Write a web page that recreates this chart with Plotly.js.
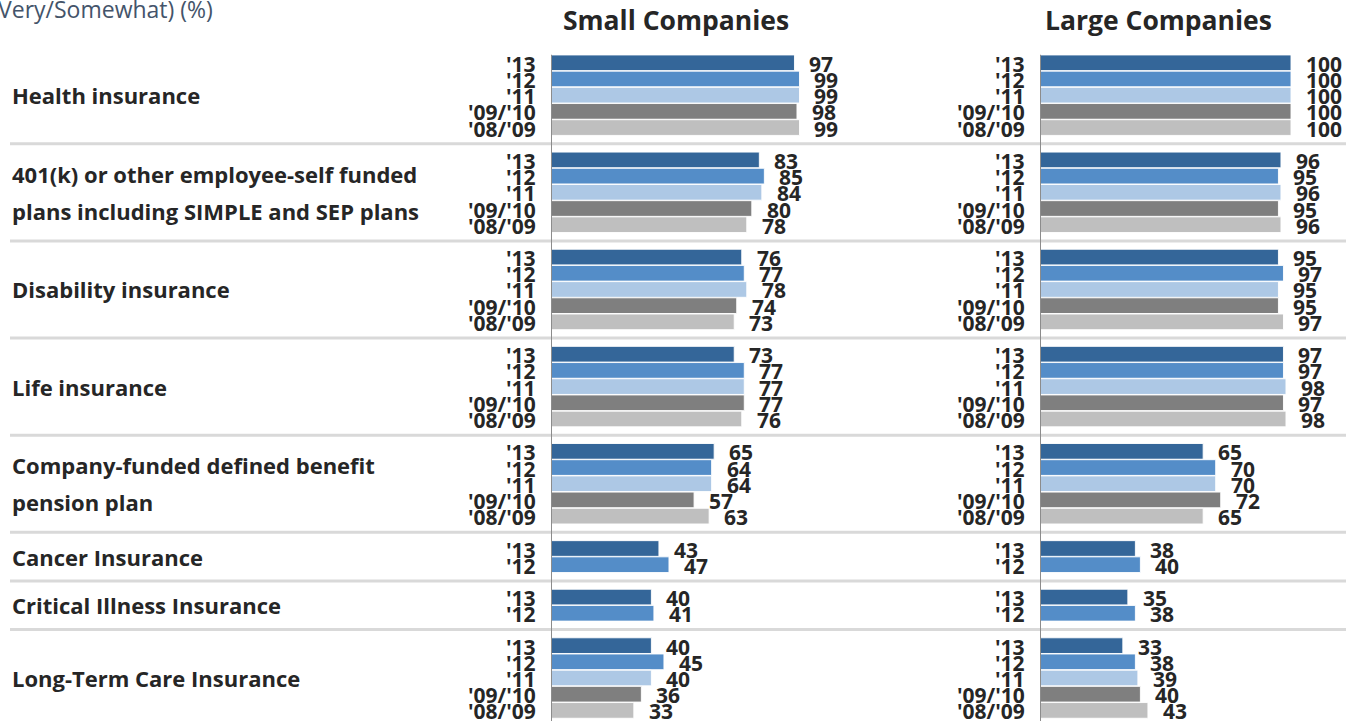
<!DOCTYPE html>
<html><head><meta charset="utf-8">
<script src="https://cdn.plot.ly/plotly-3.0.1.min.js"></script>
<style>html,body{margin:0;padding:0;background:#fff;overflow:hidden}#chart{width:1346px;height:721px}</style>
</head><body><div id="chart"></div>
<script>
// ---------- data ----------
const categories = [
  ["Health insurance"],
  ["401(k) or other employee-self funded", "plans including SIMPLE and SEP plans"],
  ["Disability insurance"],
  ["Life insurance"],
  ["Company-funded defined benefit", "pension plan"],
  ["Cancer Insurance"],
  ["Critical Illness Insurance"],
  ["Long-Term Care Insurance"]
];
const years = ["'13", "'12", "'11", "'09/'10", "'08/'09"];
const yearColors = ["#346699", "#548dc8", "#adc8e5", "#7f7f7f", "#bfbfbf"];

const small13   = [97, 83, 76, 73, 65, 43, 40, 40];
const small12   = [99, 85, 77, 77, 64, 47, 41, 45];
const small11   = [99, 84, 78, 77, 64, null, null, 40];
const small0910 = [98, 80, 74, 77, 57, null, null, 36];
const small0809 = [99, 78, 73, 76, 63, null, null, 33];

const large13   = [100, 96, 95, 97, 65, 38, 35, 33];
const large12   = [100, 95, 97, 97, 70, 40, 38, 38];
const large11   = [100, 96, 95, 98, 70, null, null, 39];
const large0910 = [100, 95, 95, 97, 72, null, null, 40];
const large0809 = [100, 96, 97, 98, 65, null, null, 43];

const panelTitles = ["Small Companies", "Large Companies"];
const subtitle = "Very/Somewhat) (%)";

// ---------- layout helpers ----------
const W = 1346, H = 721;
const panels = [
  {series: [small13, small12, small11, small0910, small0809], xaxis: "x", xref: "x"},
  {series: [large13, large12, large11, large0910, large0809], xaxis: "x2", xref: "x2"}
];
const FONT = "'Open Sans', sans-serif";
const TXT = "#262626";

// slot positions derived from how many series each category has
const counts = categories.map((c, i) => panels[0].series.filter(s => s[i] !== null).length);
const groupStart = [];
let slot = 0;
counts.forEach(n => { groupStart.push(slot); slot += n + 1; });
const pxPerSlot = 16.19;
const topSlot = -62.8 / pxPerSlot;
const bottomSlot = topSlot + H / pxPerSlot;

const traces = [];
const annotations = [];
const shapes = [];

panels.forEach((p, pi) => {
  years.forEach((yr, k) => {
    const xs = [], ys = [];
    categories.forEach((c, i) => {
      const v = p.series[k][i];
      if (v !== null) { xs.push(v); ys.push(groupStart[i] + k); }
    });
    traces.push({
      type: "bar", orientation: "h", x: xs, y: ys, xaxis: p.xaxis, yaxis: "y",
      width: 0.97, name: yr, showlegend: false,
      marker: {color: yearColors[k], line: {color: "rgba(255,255,255,0.9)", width: 1}},
      hovertemplate: yr + ": %{x}<extra></extra>"
    });
    xs.forEach((v, j) => {
      annotations.push({
        xref: p.xref, yref: "y", x: v, y: ys[j], xanchor: "left", yanchor: "middle",
        xshift: 13, yshift: -1, text: String(v), showarrow: false,
        font: {family: FONT, size: 21, color: TXT, weight: 700}
      });
      annotations.push({
        xref: p.xref, yref: "y", x: 0, y: ys[j], xanchor: "right", yanchor: "middle",
        xshift: -13, yshift: -1, text: yr, showarrow: false,
        font: {family: FONT, size: 21, color: TXT, weight: 700}
      });
    });
  });
  shapes.push({type: "line", xref: p.xref, yref: "y", x0: 0, x1: 0, y0: -0.5, y1: bottomSlot,
    line: {color: "#8c8c8c", width: 2}, layer: "above"});
});

// category labels and separators
categories.forEach((lines, i) => {
  const center = groupStart[i] + (counts[i] - 1) / 2;
  lines.forEach((ln, li) => {
    const off = (li - (lines.length - 1) / 2) * 37 ;
    annotations.push({
      xref: "paper", yref: "y", x: 10 / W, y: center, xanchor: "left", yanchor: "middle",
      yshift: -off, text: ln, showarrow: false,
      font: {family: FONT, size: 22, color: TXT, weight: 700}
    });
  });
  if (i < categories.length - 1) {
    const sy = groupStart[i] + counts[i];
    shapes.push({type: "line", xref: "paper", yref: "y", x0: 10 / W, x1: 1, y0: sy, y1: sy,
      line: {color: "#d9d9d9", width: 3}, layer: "below"});
  }
});

// titles
[675.5, 1158].forEach((cx, i) => {
  annotations.push({xref: "paper", yref: "paper", x: cx / W, y: 1 - 20 / H,
    xanchor: "center", yanchor: "middle", text: panelTitles[i], showarrow: false,
    font: {family: FONT, size: 26.5, color: TXT, weight: 700}});
});
annotations.push({xref: "paper", yref: "paper", x: -4 / W, y: 1 - 9 / H,
  xanchor: "left", yanchor: "middle", text: subtitle, showarrow: false,
  font: {family: FONT, size: 23, color: "#44546a"}});

const axisCommon = {range: [0, 100], showgrid: false, zeroline: false, showticklabels: false,
  showline: false, ticks: "", fixedrange: true};
const layout = {
  width: W, height: H, margin: {l: 0, r: 0, t: 0, b: 0},
  paper_bgcolor: "#fff", plot_bgcolor: "rgba(0,0,0,0)",
  barmode: "overlay", showlegend: false,
  xaxis: Object.assign({}, axisCommon, {domain: [551 / W, 802 / W]}),
  xaxis2: Object.assign({}, axisCommon, {domain: [1040 / W, 1291 / W], anchor: "y"}),
  yaxis: {range: [bottomSlot, topSlot], showgrid: false, zeroline: false, showticklabels: false,
    showline: false, ticks: "", fixedrange: true, domain: [0, 1]},
  annotations: annotations, shapes: shapes
};
Plotly.newPlot("chart", traces, layout, {displayModeBar: false, staticPlot: true});
</script></body></html>
